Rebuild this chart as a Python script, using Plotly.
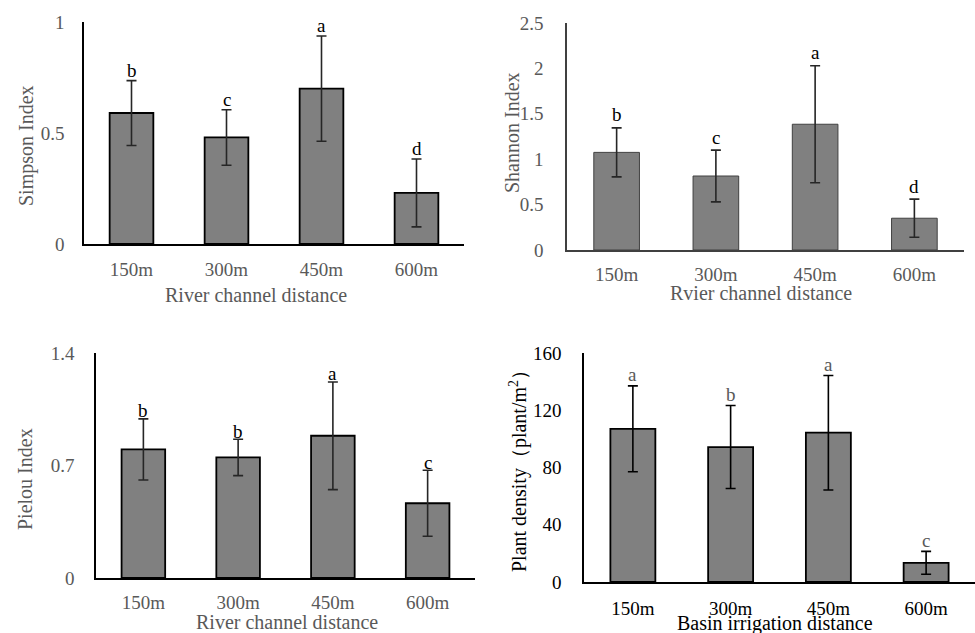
import plotly.graph_objects as go

categories = ["150m", "300m", "450m", "600m"]

simpson_vals = [0.59, 0.48, 0.70, 0.23]
simpson_err = [0.146, 0.125, 0.237, 0.153]
simpson_letters = ["b", "c", "a", "d"]

shannon_vals = [1.075, 0.815, 1.385, 0.35]
shannon_err = [0.27, 0.285, 0.645, 0.21]
shannon_letters = ["b", "c", "a", "d"]

pielou_vals = [0.80, 0.75, 0.885, 0.465]
pielou_err = [0.19, 0.113, 0.335, 0.205]
pielou_letters = ["b", "b", "a", "c"]

density_vals = [107.0, 94.3, 104.3, 13.4]
density_err = [30.0, 29.0, 40.0, 8.0]
density_letters = ["a", "b", "a", "c"]

W, H = 975, 633
FONT = "Liberation Serif"
GREY = "#595959"


def px(x):
    return x / W


def py(y):
    return 1 - y / H


panels = [
    dict(vals=simpson_vals, err=simpson_err, letters=simpson_letters,
         xd=(84, 464), yd=(22, 244), rng=[0, 1], tickvals=[0, 0.5, 1], ticktext=["0", "0.5", "1"],
         tickcolor=GREY, lettercolor="#000000", border=1.8, bordercolor="#000000", axcolor="#000000",
         errcolor="#262626", lshift=10, xstand=7, ystand=14,
         xtitle="River channel distance", xtpos=(256, 295), ytitle="Simpson Index", ytpos=(26, 146),
         titlecolor=GREY),
    dict(vals=shannon_vals, err=shannon_err, letters=shannon_letters,
         xd=(567, 964), yd=(23, 250), rng=[0, 2.5], tickvals=[0, 0.5, 1, 1.5, 2, 2.5],
         ticktext=["0", "0.5", "1", "1.5", "2", "2.5"],
         tickcolor=GREY, lettercolor="#000000", border=1.0, bordercolor="#404040", axcolor="#404040",
         errcolor="#262626", lshift=13, xstand=6, ystand=18,
         xtitle="Rvier channel distance", xtpos=(761, 293), ytitle="Shannon Index", ytpos=(512, 133),
         titlecolor=GREY),
    dict(vals=pielou_vals, err=pielou_err, letters=pielou_letters,
         xd=(96, 475), yd=(353, 578), rng=[0, 1.4], tickvals=[0, 0.7, 1.4], ticktext=["0", "0.7", "1.4"],
         tickcolor=GREY, lettercolor="#000000", border=1.8, bordercolor="#000000", axcolor="#000000",
         errcolor="#262626", lshift=8, xstand=6, ystand=16,
         xtitle="River channel distance", xtpos=(287, 622), ytitle="Pielou Index", ytpos=(25, 479),
         titlecolor=GREY),
    dict(vals=density_vals, err=density_err, letters=density_letters,
         xd=(584, 975), yd=(353, 582), rng=[0, 160], tickvals=[0, 40, 80, 120, 160],
         ticktext=["0", "40", "80", "120", "160"],
         tickcolor="#000000", lettercolor=GREY, border=1.8, bordercolor="#000000", axcolor="#000000",
         errcolor="#000000", lshift=11, xstand=8, ystand=17,
         xtitle="Basin irrigation distance", xtpos=(775, 623),
         ytitle="Plant density\uff08plant/m<sup>2</sup>\uff09", ytpos=(518, 466),
         titlecolor="#000000"),
]

fig = go.Figure()
annotations = []
layout = {}

for i, p in enumerate(panels, start=1):
    xa = "x" if i == 1 else f"x{i}"
    ya = "y" if i == 1 else f"y{i}"
    fig.add_trace(go.Bar(
        x=categories, y=p["vals"], xaxis=xa, yaxis=ya,
        marker=dict(color="#808080", line=dict(color=p["bordercolor"], width=p["border"])),
        width=0.46,
        error_y=dict(type="data", array=p["err"], visible=True, color=p["errcolor"],
                     thickness=1.6, width=5),
        showlegend=False, hoverinfo="skip",
    ))
    xkey = "xaxis" if i == 1 else f"xaxis{i}"
    ykey = "yaxis" if i == 1 else f"yaxis{i}"
    layout[xkey] = dict(
        domain=[px(p["xd"][0]), px(p["xd"][1])], anchor=ya, automargin=False,
        showline=True, linecolor=p["axcolor"], linewidth=1.6, showgrid=False, zeroline=False,
        ticks="", tickfont=dict(family=FONT, size=19, color=p["tickcolor"]),
        ticklabelstandoff=p["xstand"], fixedrange=True,
    )
    layout[ykey] = dict(
        domain=[py(p["yd"][1]), py(p["yd"][0])], anchor=xa, range=p["rng"], automargin=False,
        showline=True, linecolor=p["axcolor"], linewidth=1.6, showgrid=False, zeroline=False,
        tickvals=p["tickvals"], ticktext=p["ticktext"], ticks="",
        tickfont=dict(family=FONT, size=19, color=p["tickcolor"]),
        ticklabelstandoff=p["ystand"], fixedrange=True,
    )
    for c, v, e, l in zip(categories, p["vals"], p["err"], p["letters"]):
        annotations.append(dict(
            x=c, y=v + e, xref=xa, yref=ya, text=l, showarrow=False,
            yanchor="middle", yshift=p["lshift"],
            font=dict(family=FONT, size=19, color=p["lettercolor"]),
        ))
    annotations.append(dict(
        x=px(p["xtpos"][0]), y=py(p["xtpos"][1]), xref="paper", yref="paper",
        text=p["xtitle"], showarrow=False, xanchor="center", yanchor="middle",
        font=dict(family=FONT, size=20, color=p["titlecolor"]),
    ))
    annotations.append(dict(
        x=px(p["ytpos"][0]), y=py(p["ytpos"][1]), xref="paper", yref="paper",
        text=p["ytitle"], showarrow=False, xanchor="center", yanchor="middle", textangle=-90,
        font=dict(family=FONT, size=20, color=p["titlecolor"]),
    ))

fig.update_layout(
    width=W, height=H, margin=dict(l=0, r=0, t=0, b=0, autoexpand=False),
    paper_bgcolor="white", plot_bgcolor="white", showlegend=False,
    annotations=annotations, bargap=0.54, **layout,
)

fig.write_html("out.html")
